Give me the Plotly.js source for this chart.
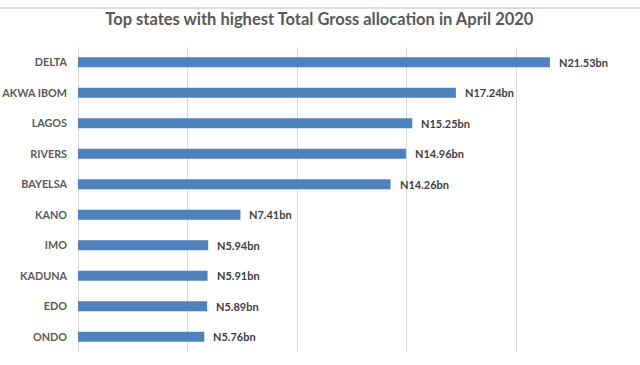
<!DOCTYPE html>
<html>
<head>
<meta charset="utf-8">
<script src="https://cdn.plot.ly/plotly-3.0.1.min.js"></script>
<style>html,body{margin:0;padding:0;background:#fff;}#chart{width:640px;height:365px;}</style>
</head>
<body>
<div id="chart"></div>
<script>
const states = ["DELTA", "AKWA IBOM", "LAGOS", "RIVERS", "BAYELSA", "KANO", "IMO", "KADUNA", "EDO", "ONDO"];
const allocations = [21.53, 17.24, 15.25, 14.96, 14.26, 7.41, 5.94, 5.91, 5.89, 5.76];
const labelPrefix = "N";
const labelSuffix = "bn";

const labelFont = {family: "Lato, 'Open Sans', sans-serif", size: 11, color: "#404040", weight: "bold"};

const trace = {
  type: "bar",
  orientation: "h",
  y: states,
  x: allocations,
  marker: {color: "#4f81bd", line: {width: 0}},
  hoverinfo: "none"
};

const annotations = states.map((s, i) => ({
  x: allocations[i], y: s, xref: "x", yref: "y",
  text: "<b>" + labelPrefix + allocations[i].toFixed(2) + labelSuffix + "</b>",
  showarrow: false, xanchor: "left", yanchor: "middle", xshift: 7,
  font: labelFont
}));

const layout = {
  width: 640, height: 365,
  paper_bgcolor: "#ffffff", plot_bgcolor: "#ffffff",
  margin: {l: 78, r: 14, t: 47, b: 13},
  title: {
    text: "<b>Top states with highest Total Gross allocation in April 2020</b>",
    font: {family: "Lato, 'Open Sans', sans-serif", size: 16.5, color: "#595959"},
    x: 0.499, xanchor: "center", xref: "container", y: 0.948, yanchor: "middle"
  },
  xaxis: {
    range: [0, 25], dtick: 5, tick0: 0,
    showticklabels: false, showgrid: true, gridcolor: "#d9d9d9", gridwidth: 1,
    zeroline: true, zerolinecolor: "#d9d9d9", zerolinewidth: 1, showline: false, fixedrange: true
  },
  yaxis: {
    autorange: "reversed", showgrid: false, zeroline: false, showline: false,
    ticks: "", ticklabelstandoff: 10,
    tickfont: {family: "Lato, 'Open Sans', sans-serif", size: 10.8, color: "#595959", weight: "bold"}
  },
  bargap: 0.67,
  showlegend: false,
  annotations: annotations,
  shapes: [{type: "line", xref: "paper", yref: "paper", x0: -0.2, x1: 1.1, y0: 1.128, y1: 1.128, line: {color: "#d0d0d0", width: 1.5}}]
};

Plotly.newPlot("chart", [trace], layout, {displayModeBar: false, staticPlot: true});
</script>
</body>
</html>
